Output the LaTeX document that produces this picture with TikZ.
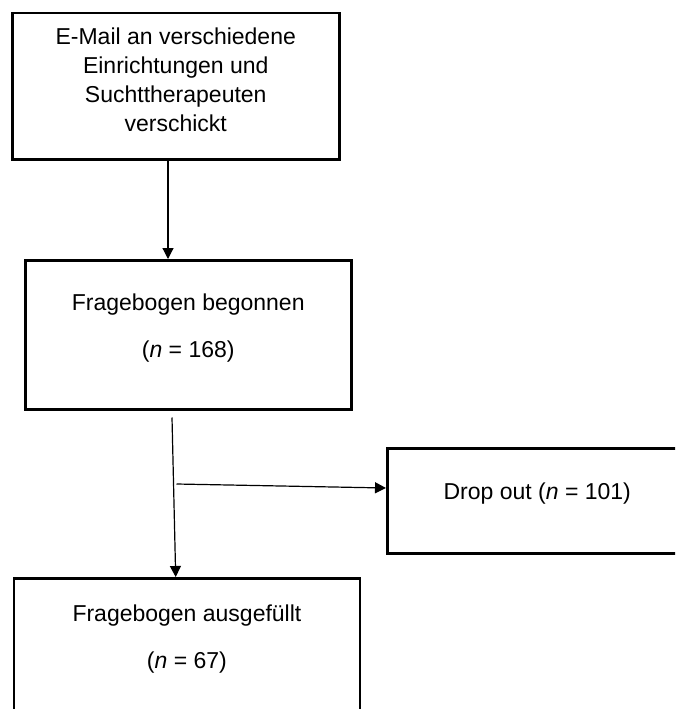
\documentclass[tikz,border=0pt]{standalone}
\usepackage{fontspec}
\setmainfont{Liberation Sans}
\usetikzlibrary{arrows.meta}
\newcommand{\boxtext}[4]{\parbox[c][#2][t]{#1}{\centering\vspace*{#3}#4}}
\tikzset{
	flowbox/.style={draw, line width=2.5pt, inner sep=0pt, font=\fontsize{23}{29}\selectfont},
	flowarrow/.style={line width=1.2pt, -{Triangle[length=11pt,width=11pt]}}
}

\begin{document}
\begin{tikzpicture}[x=1pt, y=-1pt]
		%%%%% START %%%%%
		
		\useasboundingbox (0, 0) rectangle (675, 709);
		\clip (0, 0) rectangle (675, 709);
		
		\node[flowbox, anchor=north west] (mail) at (11, 12) {\boxtext{327pt}{146pt}{14.4pt}{E-Mail an verschiedene\\Einrichtungen und\\Suchttherapeuten\\verschickt}};
		
		\node[flowbox, anchor=north west] (begun) at (24, 259) {\boxtext{326pt}{149pt}{33.4pt}{Fragebogen begonnen\\[18pt](\textit{n} = 168)}};
		
		\node[flowbox, anchor=north west] (dropout) at (386, 447) {\boxtext{300pt}{105pt}{34.4pt}{Drop out (\textit{n} = 101)}};
		
		\node[flowbox, anchor=north west] (filled) at (12.7, 577) {\boxtext{346pt}{143pt}{26.4pt}{Fragebogen ausgefüllt\\[18pt](\textit{n} = 67)}};
		
		\draw[flowarrow] ([xshift=157pt]mail.south west) -- ([xshift=144pt]begun.north west);
		\draw[flowarrow] ([xshift=148pt, yshift=-7pt]begun.south west) -- ([xshift=163pt]filled.north west);
		
		\coordinate (split) at (176.5, 484);
		\draw[flowarrow] (split) -- ([yshift=-41pt]dropout.north west);
		
		%%%%% END %%%%%
	\end{tikzpicture}
\end{document}
